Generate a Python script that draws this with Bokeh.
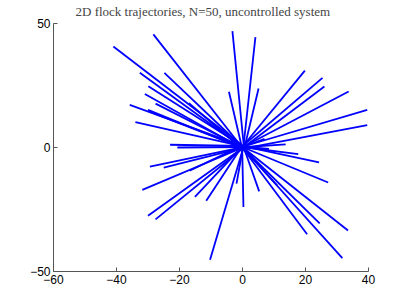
from bokeh.plotting import figure
from bokeh.embed import file_html
from bokeh.resources import INLINE
from bokeh.models import Range1d, FixedTicker

# Trajectory start points (near origin) and end points
x_start = [0.5, -0.5, 0.3, -0.2, 0.6, 0.1, -0.4, 0.2, 0.0, -0.3,
           0.4, -0.6, 0.2, -0.1, 0.5, 0.3, -0.2, 0.6, 0.1, -0.5,
           0.0, 0.4, -0.3, 0.2, -0.1, 0.5, 0.3, -0.4, 0.1, -0.2,
           0.6, 0.0, -0.5, 0.3, 0.2, -0.1, 0.4, -0.3, 0.5, 0.1,
           -0.2, 0.3, 0.0, -0.4, 0.2, 0.6, -0.1, 0.4, -0.3, 0.1]
y_start = [0.3, 0.6, -0.2, 0.4, 0.1, -0.5, 0.2, 0.5, -0.3, 0.0,
           0.4, -0.1, 0.6, 0.2, -0.4, 0.3, 0.1, -0.2, 0.5, 0.0,
           -0.3, 0.4, 0.2, -0.5, 0.1, 0.3, -0.1, 0.6, 0.0, -0.4,
           0.2, 0.5, -0.2, 0.1, 0.4, -0.3, 0.0, 0.3, -0.1, 0.6,
           0.2, -0.4, 0.1, 0.5, -0.2, 0.3, 0.0, -0.5, 0.4, 0.2]
x_end = [-41.0, -28.3, -32.6, -24.8, -29.9, -31.0, -27.6, -35.8, -30.0, -29.5,
         -34.0, -17.0, -23.0, -20.7, -3.2, 4.1, -4.3, 5.1, 19.8, 25.4,
         26.0, 33.7, 39.6, 39.6, 13.7, -29.4, -25.0, -16.8, -31.8, -30.0,
         -27.6, -15.1, -11.5, -10.3, -1.9, 0.3, 5.3, 11.0, 27.2, 24.3,
         17.7, 24.5, 33.5, 20.5, 31.7, 8.4, -5.0, 3.0, -6.0, 7.0]
y_end = [40.7, 45.6, 30.1, 30.1, 24.7, 21.6, 17.7, 17.2, 15.2, 14.5,
         10.2, 17.9, 1.1, 0.0, 46.9, 44.5, 22.5, 23.8, 31.0, 28.1,
         24.6, 22.6, 15.2, 9.0, 1.3, -7.7, -8.1, -9.3, -17.1, -27.5,
         -29.0, -19.9, -21.5, -45.3, -14.6, -24.0, -17.7, -15.3, -14.1, -6.0,
         -2.7, -30.6, -33.5, -35.0, -44.6, -0.6, 3.0, -4.0, -3.0, 3.5]

x_ticks = [-60, -40, -20, 0, 20, 40]
x_tick_labels = ["\u221260", "\u221240", "\u221220", "0", "20", "40"]
y_ticks = [-50, 0, 50]
y_tick_labels = ["\u221250", "0", "50"]

p = figure(width=400, height=300, output_backend="svg", toolbar_location=None,
           x_range=Range1d(-60, 40), y_range=Range1d(-50, 50),
           min_border_left=53, min_border_right=32, min_border_top=23,
           min_border_bottom=29)

p.title.text = "2D flock trajectories, N=50, uncontrolled system"
p.title.text_font = "Liberation Serif"
p.title.text_font_style = "normal"
p.title.text_font_size = "13px"
p.title.align = "left"
p.title.offset = 22
p.title.standoff = 6
p.title.vertical_align = "top"

xs = [[a, b] for a, b in zip(x_start, x_end)]
ys = [[a, b] for a, b in zip(y_start, y_end)]
p.multi_line(xs, ys, line_color="#0000FF", line_width=1.8)

p.xgrid.visible = False
p.ygrid.visible = False
p.outline_line_color = None
p.background_fill_color = "white"
p.border_fill_color = "white"

for ax, ticks, labels in ((p.xaxis[0], x_ticks, x_tick_labels), (p.yaxis[0], y_ticks, y_tick_labels)):
    ax.ticker = FixedTicker(ticks=ticks)
    ax.major_label_overrides = {t: l for t, l in zip(ticks, labels)}
    ax.major_tick_in = 4
    ax.major_tick_out = 0
    ax.minor_tick_line_color = None
    ax.axis_line_color = "#555555"
    ax.major_tick_line_color = "#555555"
    ax.major_label_text_font = "Liberation Sans"
    ax.major_label_text_font_size = "12px"
    ax.major_label_text_color = "black"
    ax.major_label_standoff = 3

p.yaxis[0].major_label_orientation = "horizontal"

open("out.html", "w").write(file_html(p, INLINE))
